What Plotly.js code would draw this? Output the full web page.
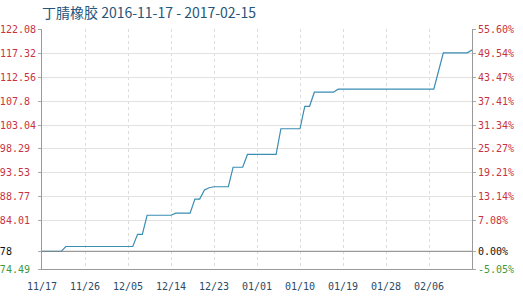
<!DOCTYPE html>
<html>
<head>
<meta charset="utf-8">
<script src="https://cdn.plot.ly/plotly-3.0.1.min.js"></script>
<style>html,body{margin:0;padding:0;background:#fff;}#chart{width:523px;height:302px;}</style>
</head>
<body>
<div id="chart"></div>
<script>
// Change points of the daily price series (step-like)
var dates = ["2016-11-17","2016-11-21","2016-11-22","2016-12-06","2016-12-07","2016-12-08","2016-12-09",
             "2016-12-14","2016-12-15","2016-12-18","2016-12-19","2016-12-20","2016-12-21","2016-12-22","2016-12-23",
             "2016-12-26","2016-12-27","2016-12-29","2016-12-30","2017-01-05","2017-01-06","2017-01-10","2017-01-11",
             "2017-01-12","2017-01-13","2017-01-17","2017-01-18","2017-02-07","2017-02-08","2017-02-09","2017-02-14","2017-02-15"];
var prices = [78.0,78.0,78.95,78.95,81.35,81.35,85.15,
              85.15,85.55,85.55,88.35,88.35,90.15,90.6,90.8,
              90.8,94.67,94.67,97.2,97.2,102.3,102.3,106.75,
              106.75,109.55,109.55,110.15,110.15,113.75,117.35,117.35,117.9];
var baseValue = 78;
var leftTicks = [74.49, 78, 84.01, 88.77, 93.53, 98.29, 103.04, 107.8, 112.56, 117.32, 122.08];
var leftLabels = ["74.49","78","84.01","88.77","93.53","98.29","103.04","107.8","112.56","117.32","122.08"];
var rightLabels = ["-5.05%","0.00%","7.08%","13.14%","19.21%","25.27%","31.34%","37.41%","43.47%","49.54%","55.60%"];
var xTicks = ["2016-11-17","2016-11-26","2016-12-05","2016-12-14","2016-12-23","2017-01-01","2017-01-10","2017-01-19","2017-01-28","2017-02-06"];
var xLabels = ["11/17","11/26","12/05","12/14","12/23","01/01","01/10","01/19","01/28","02/06"];
var titleText = "丁腈橡胶 2016-11-17 - 2017-02-15";

function colorize(labels, vals, padTo){
  return labels.map(function(t,i){
    var c = vals[i] > baseValue ? "#c7333f" : (vals[i] < baseValue ? "#3d9a3d" : "#111111");
    var pad = "";
    if (padTo) { while (t.length + pad.length < padTo) pad += "0"; }
    var s = '<span style="color:'+c+'">'+t+'</span>';
    if (pad) s += '<span style="color:rgba(0,0,0,0)">'+pad+'</span>';
    return s;
  });
}

var traces = [
  {x: dates, y: prices, type: "scatter", mode: "lines", line: {color: "#3a8db3", width: 1.2}, hoverinfo: "skip", showlegend: false},
  {x: dates, y: prices, type: "scatter", mode: "lines", line: {color: "rgba(0,0,0,0)", width: 0}, yaxis: "y2", hoverinfo: "skip", showlegend: false}
];

var yRange = [leftTicks[0], leftTicks[leftTicks.length-1]];
var tickFont = {family: "DejaVu Sans Mono, monospace", size: 10};

var layout = {
  width: 523, height: 302,
  margin: {l: 42, r: 51, t: 29, b: 33},
  paper_bgcolor: "#ffffff", plot_bgcolor: "#ffffff",
  title: {text: titleText, x: 0, xref: "paper", xanchor: "left", y: 0.955, yref: "container", yanchor: "middle",
          font: {family: "Noto Sans CJK SC, DejaVu Sans, sans-serif", size: 14, color: "#25557a"}},
  xaxis: {type: "date", range: [dates[0], dates[dates.length-1]], tickvals: xTicks, ticktext: xLabels,
          tickfont: {family: "DejaVu Sans Mono, monospace", size: 10, color: "#2c4a68"},
          showgrid: true, gridcolor: "#dcdcdc", griddash: "dot", gridwidth: 1,
          showline: true, linecolor: "#999999", linewidth: 1, ticks: "outside", ticklen: 8, tickcolor: "rgba(0,0,0,0)",
          zeroline: false, fixedrange: true},
  yaxis: {range: yRange, tickvals: leftTicks, ticktext: colorize(leftLabels, leftTicks, 6), tickfont: tickFont,
          showgrid: true, gridcolor: "#e2e2e2", gridwidth: 1,
          showline: true, linecolor: "#999999", linewidth: 1, ticks: "outside", ticklen: 3, tickcolor: "#aaaaaa",
          zeroline: false, fixedrange: true},
  yaxis2: {range: yRange, overlaying: "y", side: "right", tickvals: leftTicks, ticktext: colorize(rightLabels, leftTicks, 0),
           tickfont: tickFont, showgrid: false, showline: true, linecolor: "#999999", linewidth: 1,
           ticks: "outside", ticklen: 3, tickcolor: "#aaaaaa", zeroline: false, fixedrange: true},
  shapes: [{type: "line", xref: "paper", x0: 0, x1: 1, yref: "y", y0: baseValue, y1: baseValue,
            line: {color: "#888888", width: 1}}],
  showlegend: false
};

Plotly.newPlot("chart", traces, layout, {staticPlot: true, displayModeBar: false});
</script>
</body>
</html>
